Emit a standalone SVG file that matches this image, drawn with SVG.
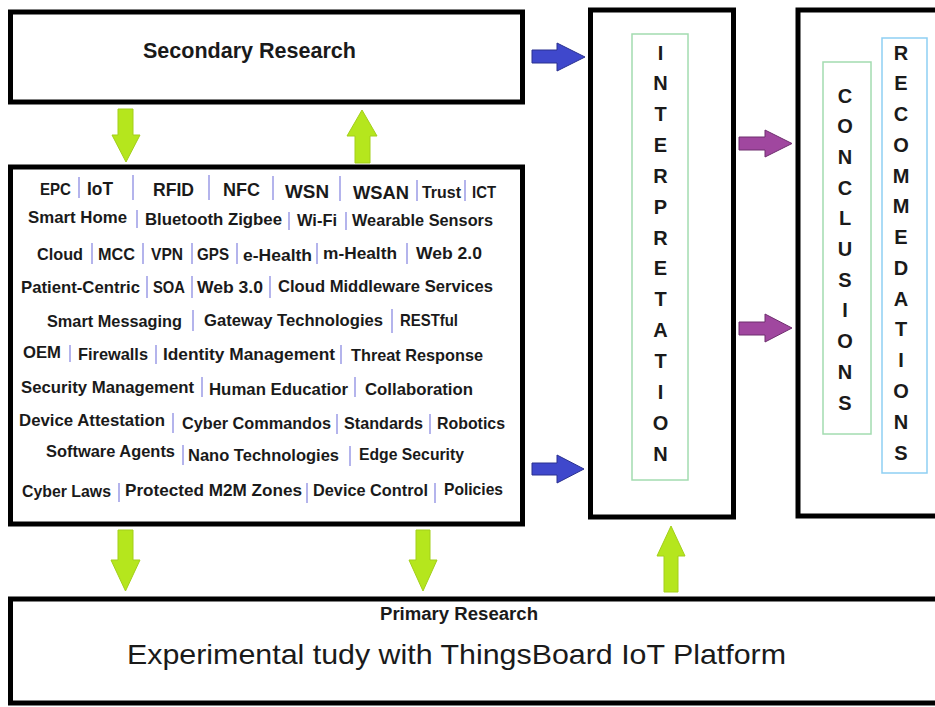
<svg xmlns="http://www.w3.org/2000/svg" width="935" height="707" viewBox="0 0 935 707">
<style>
.box{fill:#fff;stroke:#000;stroke-width:5}
.t{font-family:"Liberation Sans",Arial,sans-serif;font-weight:bold;fill:#1a1a1a}
.i{font-size:16.5px}
.big{font-size:19px}
.sep{stroke:#b4b4ec;stroke-width:2}
.v{font-family:"Liberation Sans",Arial,sans-serif;font-weight:bold;font-size:20px;fill:#1a1a1a;text-anchor:middle}
.g{fill:#b5e61d;stroke:#a3cf1a;stroke-width:1}
.b{fill:#3f48cc;stroke:#2a3190;stroke-width:1}
.p{fill:#a0479f;stroke:#6f2f6f;stroke-width:1}
</style>
<rect width="935" height="707" fill="#fff"/>

<g id="secondary">
<rect class="box" x="10.5" y="12" width="512" height="90"/>
<text class="t" x="143" y="58" font-size="22" textLength="213" lengthAdjust="spacingAndGlyphs">Secondary Research</text>
</g>

<g id="topics">
<rect class="box" x="10.5" y="167" width="512" height="357"/>
<g class="sep">
<line x1="79" y1="177" x2="79" y2="198"/><line x1="133" y1="175" x2="133" y2="200"/><line x1="209" y1="175" x2="209" y2="200"/><line x1="273" y1="176" x2="273" y2="200"/><line x1="340" y1="176" x2="340" y2="201"/><line x1="417" y1="180" x2="417" y2="201"/><line x1="465" y1="180" x2="465" y2="201"/>
<line x1="137" y1="210" x2="137" y2="228"/><line x1="289" y1="212" x2="289" y2="230"/><line x1="346" y1="212" x2="346" y2="230"/>
<line x1="92" y1="243" x2="92" y2="264"/><line x1="143" y1="243" x2="143" y2="264"/><line x1="192" y1="243" x2="192" y2="264"/><line x1="237" y1="243" x2="237" y2="264"/><line x1="317" y1="243" x2="317" y2="264"/><line x1="407" y1="243" x2="407" y2="264"/>
<line x1="147" y1="276" x2="147" y2="298"/><line x1="192" y1="276" x2="192" y2="298"/><line x1="270" y1="276" x2="270" y2="298"/>
<line x1="193" y1="310" x2="193" y2="331"/><line x1="392" y1="309" x2="392" y2="333"/>
<line x1="70" y1="345" x2="70" y2="362"/><line x1="156" y1="345" x2="156" y2="364"/><line x1="341" y1="345" x2="341" y2="364"/>
<line x1="202" y1="377" x2="202" y2="397"/><line x1="355" y1="377" x2="355" y2="397"/>
<line x1="173" y1="413" x2="173" y2="433"/><line x1="337" y1="414" x2="337" y2="434"/><line x1="430" y1="414" x2="430" y2="434"/>
<line x1="183" y1="445" x2="183" y2="465"/><line x1="350" y1="446" x2="350" y2="466"/>
<line x1="119" y1="483" x2="119" y2="502"/><line x1="307" y1="483" x2="307" y2="503"/><line x1="435" y1="483" x2="435" y2="503"/>
</g>
<g class="t">
<text class="i" x="40" y="195" textLength="31" lengthAdjust="spacingAndGlyphs">EPC</text>
<text class="big" x="87" y="195" textLength="26" lengthAdjust="spacingAndGlyphs">IoT</text>
<text class="big" x="153" y="196" textLength="41" lengthAdjust="spacingAndGlyphs">RFID</text>
<text class="big" x="223" y="196" textLength="37" lengthAdjust="spacingAndGlyphs">NFC</text>
<text class="big" x="285" y="198" textLength="44" lengthAdjust="spacingAndGlyphs">WSN</text>
<text class="big" x="353" y="199" textLength="56" lengthAdjust="spacingAndGlyphs">WSAN</text>
<text class="i" x="422" y="198" font-size="15.5" textLength="39" lengthAdjust="spacingAndGlyphs">Trust</text>
<text class="i" x="472" y="198" textLength="24" lengthAdjust="spacingAndGlyphs">ICT</text>

<text class="i" x="28" y="223" textLength="99" lengthAdjust="spacingAndGlyphs">Smart Home</text>
<text class="i" x="145" y="225" textLength="137" lengthAdjust="spacingAndGlyphs">Bluetooth Zigbee</text>
<text class="i" x="297" y="226" textLength="40" lengthAdjust="spacingAndGlyphs">Wi-Fi</text>
<text class="i" x="352" y="226" textLength="141" lengthAdjust="spacingAndGlyphs">Wearable Sensors</text>

<text class="i" x="37" y="260" textLength="46" lengthAdjust="spacingAndGlyphs">Cloud</text>
<text class="i" x="98" y="260" textLength="37" lengthAdjust="spacingAndGlyphs">MCC</text>
<text class="i" x="151" y="260" textLength="32" lengthAdjust="spacingAndGlyphs">VPN</text>
<text class="i" x="197" y="260" textLength="32" lengthAdjust="spacingAndGlyphs">GPS</text>
<text class="i" x="243" y="261" textLength="69" lengthAdjust="spacingAndGlyphs">e-Health</text>
<text class="i" x="323" y="259" textLength="74" lengthAdjust="spacingAndGlyphs">m-Health</text>
<text class="i" x="416" y="259" textLength="66" lengthAdjust="spacingAndGlyphs">Web 2.0</text>

<text class="i" x="21" y="293" textLength="119" lengthAdjust="spacingAndGlyphs">Patient-Centric</text>
<text class="i" x="153" y="293" textLength="32" lengthAdjust="spacingAndGlyphs">SOA</text>
<text class="i" x="197" y="293" textLength="66" lengthAdjust="spacingAndGlyphs">Web 3.0</text>
<text class="i" x="278" y="292" textLength="215" lengthAdjust="spacingAndGlyphs">Cloud Middleware Services</text>

<text class="i" x="47" y="327" textLength="135" lengthAdjust="spacingAndGlyphs">Smart Messaging</text>
<text class="i" x="204" y="326" textLength="179" lengthAdjust="spacingAndGlyphs">Gateway Technologies</text>
<text class="i" x="400" y="326" textLength="58" lengthAdjust="spacingAndGlyphs">RESTful</text>

<text class="i" x="23" y="358" textLength="38" lengthAdjust="spacingAndGlyphs">OEM</text>
<text class="i" x="78" y="360" textLength="70" lengthAdjust="spacingAndGlyphs">Firewalls</text>
<text class="i" x="163" y="360" textLength="172" lengthAdjust="spacingAndGlyphs">Identity Management</text>
<text class="i" x="351" y="361" textLength="132" lengthAdjust="spacingAndGlyphs">Threat Response</text>

<text class="i" x="21" y="393" textLength="173" lengthAdjust="spacingAndGlyphs">Security Management</text>
<text class="i" x="209" y="395" textLength="139" lengthAdjust="spacingAndGlyphs">Human Educatior</text>
<text class="i" x="365" y="395" textLength="108" lengthAdjust="spacingAndGlyphs">Collaboration</text>

<text class="i" x="19" y="426" textLength="146" lengthAdjust="spacingAndGlyphs">Device Attestation</text>
<text class="i" x="182" y="429" textLength="149" lengthAdjust="spacingAndGlyphs">Cyber Commandos</text>
<text class="i" x="344" y="429" textLength="79" lengthAdjust="spacingAndGlyphs">Standards</text>
<text class="i" x="437" y="429" textLength="68" lengthAdjust="spacingAndGlyphs">Robotics</text>

<text class="i" x="46" y="457" textLength="129" lengthAdjust="spacingAndGlyphs">Software Agents</text>
<text class="i" x="188" y="461" textLength="151" lengthAdjust="spacingAndGlyphs">Nano Technologies</text>
<text class="i" x="359" y="460" textLength="105" lengthAdjust="spacingAndGlyphs">Edge Security</text>

<text class="i" x="22" y="497" textLength="89" lengthAdjust="spacingAndGlyphs">Cyber Laws</text>
<text class="i" x="125" y="496" textLength="177" lengthAdjust="spacingAndGlyphs">Protected M2M Zones</text>
<text class="i" x="313" y="496" textLength="115" lengthAdjust="spacingAndGlyphs">Device Control</text>
<text class="i" x="444" y="495" textLength="59" lengthAdjust="spacingAndGlyphs">Policies</text>
</g>
</g>

<g id="interpretation">
<rect class="box" x="590.5" y="10" width="143" height="507"/>
<rect x="632" y="34" width="56" height="446" fill="none" stroke="#a3dcb0" stroke-width="1.5"/>
<text class="v"><tspan x="660.5" y="59.5">I</tspan><tspan x="660.5" y="90.3">N</tspan><tspan x="660.5" y="121.2">T</tspan><tspan x="660.5" y="152">E</tspan><tspan x="660.5" y="182.9">R</tspan><tspan x="660.5" y="213.7">P</tspan><tspan x="660.5" y="244.6">R</tspan><tspan x="660.5" y="275.4">E</tspan><tspan x="660.5" y="306.3">T</tspan><tspan x="660.5" y="337.1">A</tspan><tspan x="660.5" y="368">T</tspan><tspan x="660.5" y="398.8">I</tspan><tspan x="660.5" y="429.7">O</tspan><tspan x="660.5" y="460.5">N</tspan></text>
</g>

<g id="outcomes">
<rect class="box" x="798" y="10" width="150" height="506"/>
</g>
<g id="conclusions">
<rect x="823" y="62" width="48" height="372" fill="none" stroke="#a3dcb0" stroke-width="1.5"/>
<text class="v"><tspan x="845" y="102.5">C</tspan><tspan x="845" y="133.2">O</tspan><tspan x="845" y="163.9">N</tspan><tspan x="845" y="194.6">C</tspan><tspan x="845" y="225.3">L</tspan><tspan x="845" y="256">U</tspan><tspan x="845" y="286.7">S</tspan><tspan x="845" y="317.4">I</tspan><tspan x="845" y="348.1">O</tspan><tspan x="845" y="378.8">N</tspan><tspan x="845" y="409.5">S</tspan></text>
</g>
<g id="recommendations">
<rect x="882" y="38" width="45" height="435" fill="none" stroke="#8ecff3" stroke-width="1.5"/>
<text class="v"><tspan x="901" y="59.5">R</tspan><tspan x="901" y="90.3">E</tspan><tspan x="901" y="121">C</tspan><tspan x="901" y="151.8">O</tspan><tspan x="901" y="182.6">M</tspan><tspan x="901" y="213.4">M</tspan><tspan x="901" y="244.1">E</tspan><tspan x="901" y="274.9">D</tspan><tspan x="901" y="305.7">A</tspan><tspan x="901" y="336.4">T</tspan><tspan x="901" y="367.2">I</tspan><tspan x="901" y="398">O</tspan><tspan x="901" y="428.7">N</tspan><tspan x="901" y="459.5">S</tspan></text>
</g>

<g id="primary">
<rect class="box" x="10.5" y="599" width="940" height="104"/>
<text class="t" x="380" y="620" font-size="17.5" textLength="158" lengthAdjust="spacingAndGlyphs">Primary Research</text>
<text x="127" y="664" font-family="'Liberation Sans',Arial,sans-serif" font-size="28" fill="#1a1a1a" textLength="659" lengthAdjust="spacingAndGlyphs">Experimental tudy with ThingsBoard IoT Platform</text>
</g>

<g id="connectors">
<polygon class="b" points="532,50 557,50 557,43 585,57 557,71 557,63 532,63"/>
<polygon class="b" points="532,463 557,463 557,455 584,469 557,483 557,475 532,475"/>
<polygon class="p" points="739,137 765,137 765,130 792,143.5 765,157 765,150 739,150"/>
<polygon class="p" points="739,322 765,322 765,314 792,328 765,342 765,335 739,335"/>
<polygon class="g" points="118,109 133,109 133,135 140,135 126,162 112,135 118,135"/>
<polygon class="g" points="362,110 377,136 370,136 370,163 355,163 355,136 347,136"/>
<polygon class="g" points="118,530 133,530 133,560 140,560 125.5,591 111,560 118,560"/>
<polygon class="g" points="416,530 430,530 430,560 437,560 423,591 409,560 416,560"/>
<polygon class="g" points="671,526 685,556 678,556 678,592 664,592 664,556 657,556"/>
</g>
</svg>
